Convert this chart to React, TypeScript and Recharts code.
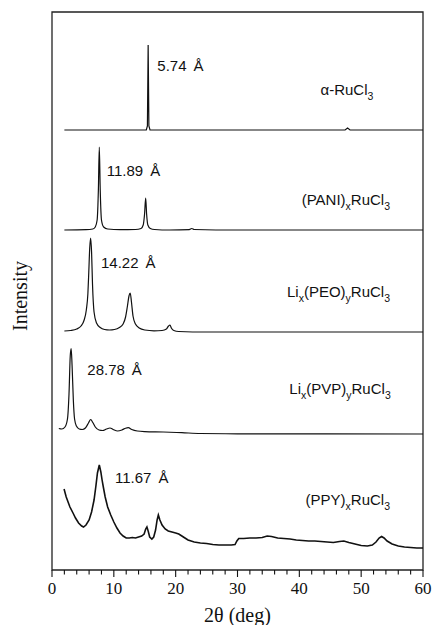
import { LineChart, Line, XAxis, YAxis, ReferenceArea, ReferenceDot } from 'recharts'

// 2θ positions (deg) and stacked intensity for each pattern, baseline removed
const alphaTheta = [2, 15.25, 15.43, 15.55, 15.67, 15.85, 47.4, 47.8, 48.2, 60]
const alphaCounts = [0, 0, 4, 85, 4, 0, 0, 2, 0, 0]

const paniTheta = [2, 5.5, 6.6, 7.0, 7.3, 7.5, 7.65, 7.8, 8.0, 8.35, 9.0, 11, 13.5, 14.4, 14.75, 14.97, 15.15, 15.3, 15.5, 15.9, 16.6, 19, 22.2, 22.6, 23.0, 30, 60]
const paniCounts = [0, 0.3, 1, 3, 10, 40, 83, 40, 10, 3, 1, 0.3, 0.5, 1.5, 5, 16, 32, 16, 5, 1.5, 0.5, 0, 0.3, 1.5, 0.5, 0, 0]

const peoTheta = [2, 3, 4, 4.7, 5.2, 5.55, 5.8, 5.95, 6.1, 6.25, 6.4, 6.55, 6.8, 7.2, 7.8, 8.5, 9.3, 10.1, 10.9, 11.5, 11.9, 12.2, 12.45, 12.65, 12.85, 13.1, 13.5, 14.1, 15.0, 16.5, 17.8, 18.5, 18.85, 19.08, 19.3, 19.7, 20.5, 25, 60]
const peoCounts = [1, 1.5, 3, 6, 12, 22, 38, 60, 84, 94, 80, 48, 20, 9, 4.5, 2.5, 2, 2.5, 4.5, 8, 15, 26, 36, 39, 30, 16, 8, 4, 2, 1.2, 1.5, 3, 6, 7, 4, 1.5, 0.5, 0, 0]

const pvpTheta = [1.1, 1.6, 2.1, 2.5, 2.75, 2.95, 3.1, 3.25, 3.45, 3.65, 3.95, 4.4, 4.9, 5.4, 5.9, 6.26, 6.6, 7.0, 7.6, 8.2, 8.8, 9.38, 9.9, 10.6, 11.3, 11.9, 12.34, 12.9, 13.8, 15, 18, 21, 24, 30, 60]
const pvpCounts = [5.5, 5, 7, 15, 40, 78, 85.5, 68, 34, 15, 8, 5, 4.5, 6, 11, 14.5, 11.5, 7, 4, 3.5, 5, 6, 4.5, 3, 4, 5.8, 6.3, 4.5, 3, 2.4, 2, 1.3, 0.5, 0.2, 0]

const ppyTheta = [1.95, 2.3, 2.9, 3.4, 3.8, 4.3, 4.8, 5.1, 5.5, 6.0, 6.4, 6.8, 7.1, 7.35, 7.65, 7.9, 8.1, 8.3, 8.6, 9.0, 9.5, 10.0, 10.5, 11.0, 11.5, 12.0, 12.5, 13.0, 13.5, 14.0, 14.5, 14.9, 15.15, 15.35, 15.55, 15.8, 16.15, 16.45, 16.75, 17.0, 17.2, 17.45, 17.8, 18.3, 18.8, 19.4, 20.0, 20.5, 21.0, 21.5, 22.0, 23.0, 24.0, 25.0, 26.0, 27.0, 28.0, 29.0, 29.6, 29.9, 30.2, 31.0, 32.0, 33.0, 34.0, 34.8, 35.5, 36.5, 37.5, 38.5, 39.5, 40.5, 41.5, 42.5, 43.5, 44.5, 45.5, 46.5, 47.2, 48.0, 49.0, 50.0, 51.0, 51.8, 52.4, 52.9, 53.3, 53.7, 54.2, 55.0, 56.0, 57.0, 58.0, 59.0, 60.0]
const ppyCounts = [81, 73, 63, 57, 52, 47, 44, 43, 45, 50, 58, 70, 84, 97, 105, 98, 90, 83, 73, 63, 55, 48, 42, 37, 34, 32, 32, 32.5, 32, 33, 34, 36, 41, 43, 39, 33, 31, 33, 40, 50, 55, 50, 45, 41, 39, 38, 37, 36, 34, 32, 30, 28, 27, 26.5, 25.5, 25, 25, 25, 25.5, 29, 31.5, 31.5, 32, 32, 32.5, 34, 33.5, 32, 31.5, 31, 30, 29.5, 29, 29, 28.5, 28, 27.5, 28.5, 29, 27.5, 26, 24.5, 24, 25, 28, 32, 33.5, 32, 29, 26, 24, 23, 22.5, 22, 22]

// vertical offset of each pattern in the stack
const stackOffsets = [440, 340, 238, 136, 0]

// d-spacing annotations: text start (2θ) and baseline height
const dSpacings = ['5.74', '11.89', '14.22', '28.78', '11.67']
const dLabelTheta = [17.03, 8.85, 7.92, 5.71, 10.19]
const dLabelY = [499.3, 394, 302, 195, 87.3]

// sample names as [text, isSubscript] runs; right end (2θ) and baseline height
const sampleNames: [string, boolean][][] = [
  [['α-RuCl', false], ['3', true]],
  [['(PANI)', false], ['x', true], ['RuCl', false], ['3', true]],
  [['Li', false], ['x', true], ['(PEO)', false], ['y', true], ['RuCl', false], ['3', true]],
  [['Li', false], ['x', true], ['(PVP)', false], ['y', true], ['RuCl', false], ['3', true]],
  [['(PPY)', false], ['x', true], ['RuCl', false], ['3', true]],
]
const nameTheta = [51.97, 54.67, 54.67, 54.78, 54.67]
const nameY = [475, 365, 273, 176, 65]

const xTicks = [0, 2, 4, 6, 8, 10, 12, 14, 16, 18, 20, 22, 24, 26, 28, 30, 32, 34, 36, 38, 40, 42, 44, 46, 48, 50, 52, 54, 56, 58, 60]

const SANS = "'Liberation Sans', Arial, Helvetica, sans-serif"
const SERIF = "'Liberation Serif', 'Times New Roman', serif"
const INK = '#111'

const traces = [
  { theta: alphaTheta, counts: alphaCounts, type: 'linear' },
  { theta: paniTheta, counts: paniCounts, type: 'monotone' },
  { theta: peoTheta, counts: peoCounts, type: 'monotone' },
  { theta: pvpTheta, counts: pvpCounts, type: 'monotone' },
  { theta: ppyTheta, counts: ppyCounts, type: 'linear' },
].map((t, i) => ({
  type: t.type as 'linear' | 'monotone',
  data: t.theta.map((x, j) => ({ x, y: t.counts[j] + stackOffsets[i] })),
}))

function DegTick(props: any) {
  const { x, y, payload } = props
  const major = payload.value % 10 === 0
  return (
    <g>
      <line x1={x} x2={x} y1={y} y2={y + (major ? 7 : 4.5)} stroke={INK} strokeWidth={1.1} />
      {major && (
        <text x={x} y={y + 23.5} textAnchor="middle" fontFamily={SERIF} fontSize={17} fill={INK}>
          {payload.value}
        </text>
      )}
    </g>
  )
}

function DLabel({ viewBox, value }: any) {
  return (
    <text x={viewBox.x} y={viewBox.y} fontFamily={SANS} fontSize={15} fill={INK}>
      {value}
      <tspan dx={7}>Å</tspan>
    </text>
  )
}

function NameLabel({ viewBox, parts }: any) {
  let sub = false
  return (
    <text x={viewBox.x} y={viewBox.y} textAnchor="end" fontFamily={SANS} fill={INK}>
      {parts.map(([s, isSub]: [string, boolean], k: number) => {
        const dy = isSub === sub ? 0 : isSub ? 5 : -5
        sub = isSub
        return (
          <tspan key={k} dy={dy} fontSize={isSub ? 10.5 : 15}>
            {s}
          </tspan>
        )
      })}
    </text>
  )
}

export default function App() {
  return (
    <div style={{ position: 'absolute', left: 0, top: 0, background: '#fff' }}>
      <LineChart width={432} height={625} margin={{ top: 12, right: 9, left: 0, bottom: 0 }}>
        <XAxis
          dataKey="x"
          type="number"
          domain={[0, 60]}
          ticks={xTicks}
          interval={0}
          allowDataOverflow
          height={55}
          tickSize={0}
          tickMargin={0}
          tickLine={false}
          axisLine={false}
          tick={<DegTick />}
          label={{
            content: ({ viewBox }: any) => (
              <text
                x={viewBox.x + viewBox.width / 2}
                y={viewBox.y + 51.7}
                textAnchor="middle"
                fontFamily={SERIF}
                fontSize={20}
                fill={INK}
              >
                2θ (deg)
              </text>
            ),
          }}
        />
        <YAxis
          type="number"
          domain={[0, 558]}
          allowDataOverflow
          width={52}
          tick={false}
          tickLine={false}
          axisLine={false}
          label={{
            content: ({ viewBox }: any) => {
              const cx = viewBox.x + 27
              const cy = viewBox.y + viewBox.height / 2 + 5
              return (
                <text
                  x={cx}
                  y={cy}
                  transform={`rotate(-90 ${cx} ${cy})`}
                  textAnchor="middle"
                  fontFamily={SERIF}
                  fontSize={20}
                  fill={INK}
                >
                  Intensity
                </text>
              )
            },
          }}
        />
        <ReferenceArea x1={0} x2={60} y1={0} y2={558} fill="none" fillOpacity={0} stroke="#222" strokeWidth={1.3} />
        {traces.map((t, i) => (
          <Line
            key={i}
            data={t.data}
            dataKey="y"
            type={t.type}
            stroke={INK}
            strokeWidth={i === 4 ? 1.6 : 1.2}
            dot={false}
            activeDot={false}
            isAnimationActive={false}
          />
        ))}
        {dSpacings.map((d, i) => (
          <ReferenceDot
            key={`d${i}`}
            x={dLabelTheta[i]}
            y={dLabelY[i]}
            r={0}
            fill="none"
            stroke="none"
            label={{ content: (p: any) => <DLabel viewBox={p.viewBox} value={d} /> }}
          />
        ))}
        {sampleNames.map((parts, i) => (
          <ReferenceDot
            key={`n${i}`}
            x={nameTheta[i]}
            y={nameY[i]}
            r={0}
            fill="none"
            stroke="none"
            label={{ content: (p: any) => <NameLabel viewBox={p.viewBox} parts={parts} /> }}
          />
        ))}
      </LineChart>
    </div>
  )
}
